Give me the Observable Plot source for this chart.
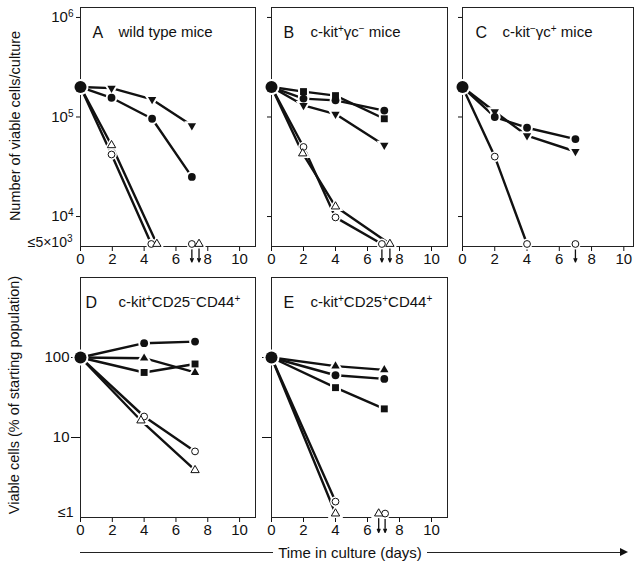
<!DOCTYPE html>
<html><head><meta charset="utf-8">
<script src="https://cdn.jsdelivr.net/npm/d3@7"></script>
<script src="https://cdn.jsdelivr.net/npm/@observablehq/plot@0.6"></script>
<style>
body{margin:0;background:#fff;}
#fig{position:relative;width:640px;height:563px;overflow:hidden;font-family:"Liberation Sans",Arial,Helvetica,sans-serif;color:#111;background:#fff;}
.panel{position:absolute;}
.ylab{position:absolute;transform:translate(-50%,-50%) rotate(-90deg);white-space:nowrap;font-size:14.5px;}
#xlab{position:absolute;left:80px;top:543px;width:548px;height:18px;display:flex;align-items:center;font-size:15px;}
#xlab .ln{flex:1;border-top:1.4px solid #222;height:0;}
#xlab span{padding:0 5px;white-space:nowrap;}
#xlab .head{width:0;height:0;border-left:8px solid #111;border-top:4px solid transparent;border-bottom:4px solid transparent;}
</style></head><body>
<div id="fig">
  <div class="panel" id="pA" style="left:0;top:0"></div>
  <div class="panel" id="pB" style="left:210px;top:0"></div>
  <div class="panel" id="pC" style="left:420px;top:0"></div>
  <div class="panel" id="pD" style="left:0;top:270px"></div>
  <div class="panel" id="pE" style="left:210px;top:270px"></div>
  <div class="ylab" style="left:15px;top:126px">Number of viable cells/culture</div>
  <div class="ylab" style="left:14px;top:395px">Viable cells (% of starting population)</div>
  <div id="xlab"><div class="ln"></div><span>Time in culture (days)</span><div class="ln"></div><div class="head"></div></div>
</div>
<script>
// ---------- axis ticks / labels ----------
const dayTicks = [0, 2, 4, 6, 8, 10];
const topTickValues = [1e6, 1e5, 1e4];
const topTickLabels = ["10⁶", "10⁵", "10⁴"];
const topFloor = 5e3;
const topFloorLabel = "≤5×10³";
const bottomTickValues = [100, 10];
const bottomTickLabels = ["100", "10"];
const bottomFloor = 1;
const bottomFloorLabel = "≤1";

// ---------- panel titles ----------
const panelLetters = ["A", "B", "C", "D", "E"];
const panelTitles = ["wild type mice", "c-kit⁺γc⁻ mice", "c-kit⁻γc⁺ mice", "c-kit⁺CD25⁻CD44⁺", "c-kit⁺CD25⁺CD44⁺"];

// ---------- Panel A: wild type mice (cells/culture) ----------
const aDays = [0, 1.95, 4.5, 7.0];
const aTriDown = [2.0e5, 1.95e5, 1.5e5, 8.2e4];
const aCircle = [2.0e5, 1.56e5, 9.6e4, 2.5e4];
const aOpenTriDays = [0, 1.95, 4.8, 7.45];
const aOpenTri = [2.0e5, 5.2e4, 5.3e3, 5.3e3];
const aOpenCircleDays = [0, 1.95, 4.45, 7.0];
const aOpenCircle = [2.0e5, 4.2e4, 5.3e3, 5.3e3];

// ---------- Panel B: c-kit+ γc- mice ----------
const bDays = [0, 2, 4, 7.05];
const bSquare = [2.0e5, 1.8e5, 1.64e5, 9.6e4];
const bCircle = [2.0e5, 1.53e5, 1.47e5, 1.16e5];
const bTriDown = [2.0e5, 1.31e5, 1.07e5, 5.2e4];
const bOpenCircleDays = [0, 2, 4, 6.9];
const bOpenCircle = [2.0e5, 5.0e4, 9.8e3, 5.3e3];
const bOpenTriDays = [0, 1.95, 4, 7.4];
const bOpenTri = [2.0e5, 4.3e4, 1.26e4, 5.3e3];

// ---------- Panel C: c-kit- γc+ mice ----------
const cDays = [0, 2, 4, 7];
const cCircle = [2.0e5, 1.0e5, 7.8e4, 6.0e4];
const cTriDown = [2.0e5, 1.13e5, 6.5e4, 4.5e4];
const cOpenCircle = [2.0e5, 4.0e4, 5.3e3, 5.3e3];

// ---------- Panel D: c-kit+ CD25- CD44+ (% of start) ----------
const dDays = [0, 4, 7.2];
const dCircle = [100, 151, 158];
const dTriUp = [100, 98, 65];
const dSquare = [100, 65, 83];
const dOpenCircle = [100, 18.3, 6.7];
const dOpenTriDays = [0, 3.8, 7.2];
const dOpenTri = [100, 16.3, 3.9];

// ---------- Panel E: c-kit+ CD25+ CD44+ ----------
const eDays = [0, 4, 7.05];
const eTriUp = [100, 78, 70];
const eCircle = [100, 60, 54];
const eSquare = [100, 42, 22.8];
const eOpenCircleDays = [0, 4, 7.1];
const eOpenCircle = [100, 1.58, 1.12];
const eOpenTriDays = [0, 4, 6.7];
const eOpenTri = [100, 1.12, 1.12];

// ---------- symbols ----------
const triUp = {draw(ctx, size) {
  const s = Math.sqrt(size * 4 / Math.sqrt(3)), h = s * Math.sqrt(3) / 2;
  ctx.moveTo(0, -2 * h / 3); ctx.lineTo(s / 2, h / 3); ctx.lineTo(-s / 2, h / 3); ctx.closePath();
}};
const triDown = {draw(ctx, size) {
  const s = Math.sqrt(size * 4 / Math.sqrt(3)), h = s * Math.sqrt(3) / 2;
  ctx.moveTo(0, 2 * h / 3); ctx.lineTo(s / 2, -h / 3); ctx.lineTo(-s / 2, -h / 3); ctx.closePath();
}};
const INK = "#111";
const KINDS = {
  circle:     {symbol: "circle", r: 3.9, fill: INK, stroke: "none", sw: 0},
  square:     {symbol: "square", r: 3.9, fill: INK, stroke: "none", sw: 0},
  triUp:      {symbol: triUp, r: 3.1, fill: INK, stroke: "none", sw: 0},
  triDown:    {symbol: triDown, r: 3.1, fill: INK, stroke: "none", sw: 0},
  openCircle: {symbol: "circle", r: 3.4, fill: "white", stroke: INK, sw: 1},
  openTri:    {symbol: triUp, r: 3.1, fill: "white", stroke: INK, sw: 1}
};

function S(kind, days, vals, joined, arrows = []) { return {kind, days, vals, joined, arrows}; }

// render Unicode superscripts as raised tspans (still real text)
const SUP = {"⁰":"0","¹":"1","²":"2","³":"3","⁴":"4","⁵":"5","⁶":"6","⁷":"7","⁸":"8","⁹":"9","⁺":"+","⁻":"−"};
function superscriptify(svg) {
  const ns = "http://www.w3.org/2000/svg";
  svg.querySelectorAll("text").forEach(t => {
    if (t.querySelector("tspan")) return;
    const txt = t.textContent;
    if (!/[⁰¹²³⁴⁵⁶⁷⁸⁹⁺⁻]/.test(txt)) return;
    const parts = txt.match(/([⁰¹²³⁴⁵⁶⁷⁸⁹⁺⁻]+|[^⁰¹²³⁴⁵⁶⁷⁸⁹⁺⁻]+)/g);
    t.textContent = "";
    let raised = false;
    for (const p of parts) {
      const sp = document.createElementNS(ns, "tspan");
      const isSup = /^[⁰¹²³⁴⁵⁶⁷⁸⁹⁺⁻]/.test(p);
      if (isSup) {
        sp.textContent = [...p].map(c => SUP[c]).join("");
        sp.setAttribute("font-size", "10px");
        sp.setAttribute("dy", "-5");
        raised = true;
      } else {
        sp.textContent = p;
        if (raised) { sp.setAttribute("dy", "5"); raised = false; }
      }
      t.appendChild(sp);
    }
  });
}

function panel(el, o) {
  const rows = o.series.flatMap((s, k) => s.days.map((d, i) => ({
    day: d, val: s.vals[i], kind: s.kind, sid: k, i,
    joined: i < s.joined, arrow: s.arrows.includes(i)
  })));
  const markers = rows.filter(r => r.i > 0);
  const start = rows.filter(r => r.i === 0).slice(0, 1);
  const marks = [
    Plot.frame({stroke: "#222", strokeWidth: 1}),
    Plot.line(rows.filter(r => r.joined), {x: "day", y: "val", z: "sid", stroke: INK, strokeWidth: 2.4}),
    Plot.arrow(rows.filter(r => r.arrow), {
      x1: "day", x2: "day", y1: () => o.floor * o.arrowFrom, y2: () => o.floor * o.arrowTo,
      stroke: INK, strokeWidth: 1.3, headLength: 4, headAngle: 45
    })
  ];
  for (const [k, st] of Object.entries(KINDS)) {
    const data = markers.filter(r => r.kind === k);
    if (!data.length) continue;
    marks.push(Plot.dot(data, {x: "day", y: "val", symbol: st.symbol, r: st.r, fill: "white", stroke: "white", strokeWidth: 4}));
  }
  for (const [k, st] of Object.entries(KINDS)) {
    const data = markers.filter(r => r.kind === k);
    if (!data.length) continue;
    marks.push(Plot.dot(data, {x: "day", y: "val", symbol: st.symbol, r: st.r, fill: st.fill, stroke: st.stroke, strokeWidth: st.sw}));
  }
  marks.push(
    Plot.dot(start, {x: "day", y: "val", r: 6, fill: "white", stroke: "white", strokeWidth: 4}),
    Plot.dot(start, {x: "day", y: "val", r: 6, fill: INK}),
    Plot.text([o.letter], {frameAnchor: "top-left", dx: o.letterDx, dy: 19, text: d => d, fontSize: 16, textAnchor: "start", fill: INK}),
    Plot.text([o.title], {frameAnchor: "top-left", dx: o.titleDx, dy: 19, text: d => d, fontSize: 15, textAnchor: "start", fill: INK})
  );
  if (o.floorLabel) {
    marks.push(Plot.text([o.floor], {y: d => d, frameAnchor: "left", text: () => o.floorLabel, textAnchor: "end",
      dx: o.floorDx, dy: o.floorDy, fontSize: 14, fill: INK}));
  }
  const chart = Plot.plot({
    width: o.width, height: o.height,
    marginLeft: o.ml, marginRight: o.mr, marginTop: o.mt, marginBottom: o.mb,
    style: {fontFamily: "'Liberation Sans', Arial, sans-serif", fontSize: "15px", background: "transparent", color: INK, overflow: "visible"},
    x: {domain: [0, o.xMax], ticks: dayTicks, tickSize: 5, tickPadding: 2, label: null},
    y: {type: "log", domain: o.yDomain, ticks: o.yTicks,
        tickFormat: o.yLabels ? (d => o.yLabels[o.yTicks.indexOf(d)]) : (() => ""),
        tickSize: o.tickSize, tickPadding: o.tickPadding, label: null},
    marks
  });
  superscriptify(chart);
  document.getElementById(el).appendChild(chart);
}

const topCommon = {height: 280, mt: 7, mb: 34, yDomain: [topFloor, Math.pow(10, 6.1)], yTicks: topTickValues,
  tickSize: 4, tickPadding: 3, floor: topFloor, arrowFrom: 0.955, arrowTo: 0.70};
const botCommon = {height: 280, mt: 7, mb: 33, yDomain: [bottomFloor, 1000], yTicks: bottomTickValues,
  tickSize: 9, tickPadding: 2, floor: bottomFloor, arrowFrom: 0.97, arrowTo: 0.65};

panel("pA", {...topCommon, width: 262, ml: 80, mr: 7, xMax: 11, yLabels: topTickLabels,
  floorLabel: topFloorLabel, floorDx: -8, floorDy: -4,
  letter: panelLetters[0], letterDx: 12, title: panelTitles[0], titleDx: 38,
  series: [
    S("triDown", aDays, aTriDown, 4),
    S("circle", aDays, aCircle, 4),
    S("openTri", aOpenTriDays, aOpenTri, 3, [3]),
    S("openCircle", aOpenCircleDays, aOpenCircle, 3, [3])
  ]});

panel("pB", {...topCommon, width: 242, ml: 61, mr: 5, xMax: 11,
  letter: panelLetters[1], letterDx: 12, title: panelTitles[1], titleDx: 39,
  series: [
    S("square", bDays, bSquare, 4),
    S("circle", bDays, bCircle, 4),
    S("triDown", bDays, bTriDown, 4),
    S("openCircle", bOpenCircleDays, bOpenCircle, 4, [3]),
    S("openTri", bOpenTriDays, bOpenTri, 4, [3])
  ]});

panel("pC", {...topCommon, width: 220, ml: 42, mr: 7, xMax: 10.6,
  letter: panelLetters[2], letterDx: 13, title: panelTitles[2], titleDx: 40,
  series: [
    S("circle", cDays, cCircle, 4),
    S("triDown", cDays, cTriDown, 4),
    S("openCircle", cDays, cOpenCircle, 3, [3])
  ]});

panel("pD", {...botCommon, width: 262, ml: 80, mr: 7, xMax: 11, yLabels: bottomTickLabels,
  floorLabel: bottomFloorLabel, floorDx: -7, floorDy: -5,
  letter: panelLetters[3], letterDx: 5, title: panelTitles[3], titleDx: 38,
  series: [
    S("circle", dDays, dCircle, 3),
    S("triUp", dDays, dTriUp, 3),
    S("square", dDays, dSquare, 3),
    S("openCircle", dDays, dOpenCircle, 3),
    S("openTri", dOpenTriDays, dOpenTri, 3)
  ]});

panel("pE", {...botCommon, width: 242, ml: 61, mr: 5, xMax: 11,
  letter: panelLetters[4], letterDx: 12, title: panelTitles[4], titleDx: 39,
  series: [
    S("triUp", eDays, eTriUp, 3),
    S("circle", eDays, eCircle, 3),
    S("square", eDays, eSquare, 3),
    S("openCircle", eOpenCircleDays, eOpenCircle, 2, [2]),
    S("openTri", eOpenTriDays, eOpenTri, 2, [2])
  ]});
</script>
</body></html>
